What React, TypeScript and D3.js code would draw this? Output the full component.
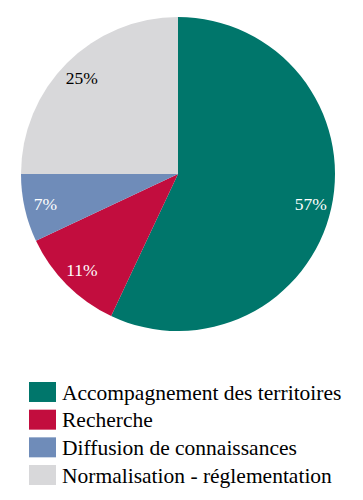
import * as d3 from 'd3'

const categories = ['Accompagnement des territoires', 'Recherche', 'Diffusion de connaissances', 'Normalisation - réglementation']
const values = [57, 11, 7, 25]
const colors = ['#00766b', '#c20d3e', '#6f8cb9', '#d8d8da']
const labelColors = ['#ffffff', '#ffffff', '#ffffff', '#000000']

const W = 363
const H = 500
const CX = 178
const CY = 174
const R = 157
const FONT = 'Liberation Serif, Times New Roman, serif'

export default function App() {
  const pie = d3.pie<number>().sort(null).value(d => d)
  const arcs = pie(values)
  const arc = d3.arc<d3.PieArcDatum<number>>().innerRadius(0).outerRadius(R)
  const labelArc = d3.arc<d3.PieArcDatum<number>>().innerRadius(136).outerRadius(136)

  // legend rows
  const legendY = d3.scaleBand<string>().domain(categories).range([382, 485]).paddingInner(0.278)

  return (
    <div style={{ margin: -8 }}>
      <svg width={W} height={H} fontFamily={FONT} style={{ display: 'block' }}>
        {categories.map((c, i) => {
          const y = legendY(c) ?? 0
          return (
            <g key={c}>
              <rect x={29} y={y} width={27} height={legendY.bandwidth()} fill={colors[i]} />
              <text x={62} y={y + legendY.bandwidth() / 2} dy="0.35em" fontSize={21.5} fill="#000">
                {c}
              </text>
            </g>
          )
        })}
        <g transform={`translate(${CX},${CY})`}>
          {arcs.map((a, i) => (
            <path key={i} d={arc(a) ?? ''} fill={colors[i]} />
          ))}
          {arcs.map((a, i) => {
            const [x, y] = labelArc.centroid(a)
            return (
              <text key={i} x={x} y={y} dy="0.35em" textAnchor="middle" fontSize={17.5} fill={labelColors[i]}>
                {values[i]}%
              </text>
            )
          })}
        </g>
      </svg>
    </div>
  )
}
